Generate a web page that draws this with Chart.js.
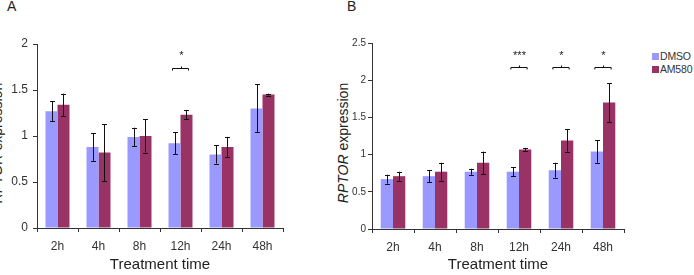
<!DOCTYPE html>
<html>
<head>
<meta charset="utf-8">
<script src="https://cdn.jsdelivr.net/npm/chart.js@4/dist/chart.umd.min.js"></script>
<style>
  body { margin: 0; background: #fff; font-family: "Liberation Sans", Arial, sans-serif; color: #333; }
  #wrap { position: relative; width: 694px; height: 275px; overflow: hidden; }
  .box { position: absolute; top: 0; height: 275px; }
  .letter { position: absolute; top: -2px; font-size: 14px; color: #222; }
  .ytitle { position: absolute; top: 143px; font-size: 14px; white-space: nowrap; color: #222;
            transform: translate(-50%, -50%) rotate(-90deg); }
  .legend { position: absolute; left: 652px; top: 50px; font-size: 10.5px; color: #333; line-height: 13px; white-space: nowrap; letter-spacing: -0.2px; }
  .legend span { display: inline-block; width: 7px; height: 7px; margin-right: 1px; vertical-align: 0px; }
</style>
</head>
<body>
<div id="wrap">
  <div class="letter" style="left:7px">A</div>
  <div class="letter" style="left:347px">B</div>
  <div class="ytitle" style="left:-3px"><i>RPTOR</i> expression</div>
  <div class="ytitle" style="left:343px"><i>RPTOR</i> expression</div>
  <div class="box" style="left:0px;width:290px"><canvas id="chartA" width="290" height="275"></canvas></div>
  <div class="box" style="left:335px;width:295px"><canvas id="chartB" width="295" height="275"></canvas></div>
  <div class="legend">
    <div><span style="background:#9999ff"></span>DMSO</div>
    <div><span style="background:#993366"></span>AM580</div>
  </div>
</div>
<script>
var times = ['2h', '4h', '8h', '12h', '24h', '48h'];

// panel A
var a_dmso = [1.27, 0.88, 0.99, 0.92, 0.80, 1.30];
var a_dmso_err = [0.11, 0.15, 0.10, 0.12, 0.10, 0.26];
var a_am580 = [1.34, 0.82, 1.00, 1.23, 0.88, 1.45];
var a_am580_err = [0.12, 0.31, 0.18, 0.05, 0.11, 0.01];
var a_sig = ['', '', '', '*', '', ''];

// panel B
var b_dmso = [0.67, 0.71, 0.77, 0.77, 0.79, 1.04];
var b_dmso_err = [0.06, 0.08, 0.04, 0.06, 0.10, 0.15];
var b_am580 = [0.71, 0.77, 0.89, 1.07, 1.19, 1.70];
var b_am580_err = [0.06, 0.12, 0.15, 0.02, 0.15, 0.26];
var b_sig = ['', '', '', '***', '*', '*'];

var fontFam = '"Liberation Sans", Arial, sans-serif';

var errorBars = {
  id: 'errorBars',
  afterDatasetsDraw: function(chart, args, opts) {
    var ctx = chart.ctx;
    var y = chart.scales.y;
    ctx.save();
    ctx.strokeStyle = '#111';
    ctx.lineWidth = 1;
    chart.data.datasets.forEach(function(ds, i) {
      chart.getDatasetMeta(i).data.forEach(function(bar, j) {
        var v = ds.data[j], e = ds.err[j];
        var x = Math.round(bar.x) + 0.5;
        var top = y.getPixelForValue(v + e);
        var bot = y.getPixelForValue(v - e);
        ctx.beginPath();
        ctx.moveTo(x, top); ctx.lineTo(x, bot);
        ctx.moveTo(x - 2.5, Math.round(top) + 0.5); ctx.lineTo(x + 2.5, Math.round(top) + 0.5);
        ctx.moveTo(x - 2.5, Math.round(bot) + 0.5); ctx.lineTo(x + 2.5, Math.round(bot) + 0.5);
        ctx.stroke();
      });
    });

    // significance brackets
    var sig = opts.labels || [];
    var m0 = chart.getDatasetMeta(0).data, m1 = chart.getDatasetMeta(1).data;
    var by = Math.round(y.getPixelForValue(opts.level)) + 0.5;
    var sy = y.getPixelForValue(opts.starLevel);
    ctx.font = '11px ' + fontFam;
    ctx.fillStyle = '#222';
    ctx.textAlign = 'center';
    ctx.textBaseline = 'middle';
    sig.forEach(function(s, j) {
      if (!s) return;
      var x1 = m0[j].x - 2, x2 = m1[j].x + 2, xm = Math.round((x1 + x2) / 2) + 0.5;
      ctx.beginPath();
      ctx.moveTo(x1, by + 2); ctx.lineTo(x1, by); ctx.lineTo(x2, by); ctx.lineTo(x2, by + 2);
      ctx.moveTo(xm, by); ctx.lineTo(xm, by - 2);
      ctx.stroke();
      ctx.fillText(s, xm, sy);
    });
    ctx.restore();
  }
};

function makePanel(id, dmso, dmsoErr, am580, am580Err, sig, ymax, level, starLevel, tickSize, tickPad, pad) {
  var ctx = document.getElementById(id).getContext('2d');
  return new Chart(ctx, {
    type: 'bar',
    data: {
      labels: times,
      datasets: [
        { label: 'DMSO', data: dmso, err: dmsoErr, backgroundColor: '#9999ff', barPercentage: 1, categoryPercentage: 0.585 },
        { label: 'AM580', data: am580, err: am580Err, backgroundColor: '#993366', barPercentage: 1, categoryPercentage: 0.585 }
      ]
    },
    options: {
      responsive: false,
      animation: false,
      layout: { padding: pad },
      plugins: {
        legend: { display: false },
        tooltip: { enabled: false },
        errorBars: { labels: sig, level: level, starLevel: starLevel }
      },
      scales: {
        x: {
          grid: { drawOnChartArea: false, tickLength: 4, color: '#333' },
          border: { color: '#333' },
          ticks: { color: '#333', font: { family: fontFam, size: 12 }, padding: 7, maxRotation: 0 },
          title: { display: true, text: 'Treatment time', color: '#222', font: { family: fontFam, size: 15 }, padding: { top: 0, bottom: 1 } },
          afterFit: function(s) { s.height = 275 - pad.top - pad.bottomArea; }
        },
        y: {
          min: 0, max: ymax,
          ticks: {
            stepSize: 0.5, color: '#333', font: { family: fontFam, size: tickSize }, padding: tickPad,
            callback: function(v) { return String(+v.toFixed(1)); }
          },
          grid: { drawOnChartArea: false, tickLength: 4, color: '#333' },
          border: { color: '#333' },
          afterFit: function(s) { s.width = 37; }
        }
      }
    },
    plugins: [errorBars]
  });
}

var chartA = makePanel('chartA', a_dmso, a_dmso_err, a_am580, a_am580_err, a_sig, 2, 1.74, 1.87, 12, 5,
  { top: 44, right: 7, bottom: 0, left: 0, bottomArea: 184 });
var chartB = makePanel('chartB', b_dmso, b_dmso_err, b_am580, b_am580_err, b_sig, 2.5, 2.18, 2.32, 10, 2,
  { top: 43, right: 6, bottom: 0, left: 0, bottomArea: 186 });
</script>
</body>
</html>
